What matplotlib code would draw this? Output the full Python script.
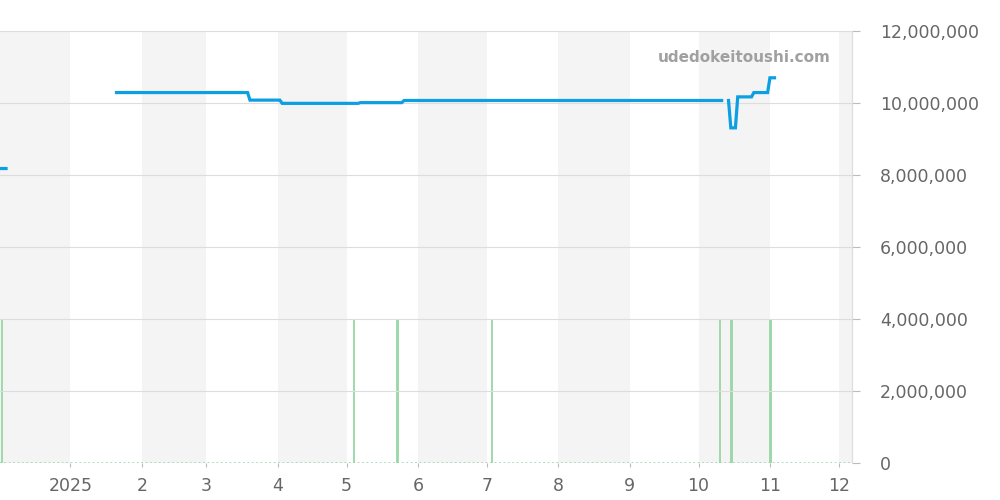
import numpy as np
import pandas as pd
import matplotlib
matplotlib.use("Agg")
import matplotlib.pyplot as plt
from matplotlib.ticker import FuncFormatter

# price series (NaN = gap in the line)
price_dates = ["2024-12-02", "2024-12-04", "2024-12-05",
               "2025-01-21", "2025-03-19", "2025-03-20", "2025-04-02",
               "2025-04-03", "2025-05-06", "2025-05-07", "2025-05-25",
               "2025-05-26", "2025-10-11", "2025-10-12", "2025-10-14",
               "2025-10-15", "2025-10-17", "2025-10-18", "2025-10-24",
               "2025-10-25", "2025-10-31", "2025-11-01", "2025-11-03"]
price_values = [8180000, 8180000, np.nan,
                10290000, 10290000, 10080000, 10080000,
                9990000, 9990000, 10010000, 10010000,
                10070000, 10070000, np.nan, 10070000,
                9310000, 9310000, 10170000, 10170000,
                10290000, 10290000, 10700000, 10700000]

# days with trades (volume bars)
volume_dates = ["2024-12-02", "2025-05-04", "2025-05-23", "2025-07-03",
                "2025-10-10", "2025-10-15", "2025-11-01"]
volume_values = [1, 1, 1, 1, 1, 1, 1]

shaded_months = ["2024-12", "2025-02", "2025-04", "2025-06",
                 "2025-08", "2025-10", "2025-12"]
tick_months = pd.date_range("2025-01-01", "2025-12-01", freq="MS")
tick_labels = ["2025"] + [str(m) for m in range(2, 13)]

pd_dates = pd.to_datetime(price_dates)
vd = pd.to_datetime(volume_dates)

fig = plt.figure(figsize=(10, 5), dpi=100)
ax_vol = fig.add_axes([0.0, 0.074, 0.852, 0.864])
ax = ax_vol.twinx()

x0, x1 = pd.Timestamp("2024-12-01 09:00"), pd.Timestamp("2025-12-06 16:00")

# alternating month bands
for m in shaded_months:
    start = pd.Timestamp(m + "-01")
    end = start + pd.offsets.MonthBegin(1)
    ax_vol.axvspan(start, end, color="#f4f4f4", lw=0, zorder=0)

vol_color = "#9ad6a6"
ax_vol.bar(vd, volume_values, width=0.7, color=vol_color,
           edgecolor=vol_color, lw=0.6, zorder=2)
ax_vol.axhline(0, color=vol_color, lw=1.2, ls=":", zorder=2)
ax_vol.set_ylim(0, 3)
ax_vol.set_yticks([])

ax.plot(pd_dates, price_values, color="#0c9fe2", lw=2.3, zorder=5,
        solid_joinstyle="miter")
ax.set_ylim(0, 12000000)
ax.set_yticks(np.arange(0, 12000001, 2000000))
ax.yaxis.set_major_formatter(FuncFormatter(lambda v, p: f"{int(v):,}"))
ax.grid(axis="y", color="#dddddd", lw=0.8)
ax.set_axisbelow(True)

ax_vol.set_xlim(x0, x1)
ax_vol.set_xticks(tick_months)
ax_vol.set_xticklabels(tick_labels)

for a in (ax, ax_vol):
    for s in ("top", "left", "bottom"):
        a.spines[s].set_visible(False)
    a.spines["right"].set_color("#dddddd")
ax.tick_params(axis="y", colors="#bbbbbb", labelcolor="#666666",
               labelsize=12.5, length=6, pad=14)
ax_vol.tick_params(axis="x", colors="#bbbbbb", labelcolor="#666666",
                   labelsize=12.5, length=3, pad=7)

ax.text(0.975, 0.955, "udedokeitoushi.com", transform=ax.transAxes,
        ha="right", va="top", fontsize=11, fontweight="bold",
        color="#a0a0a0", zorder=6)

fig.savefig("out.png", dpi=100)
